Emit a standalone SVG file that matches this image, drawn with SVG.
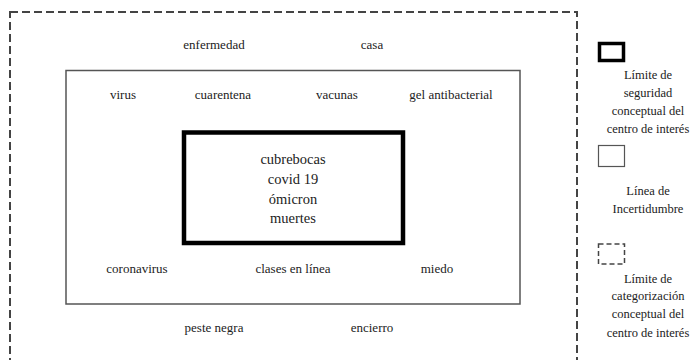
<svg xmlns="http://www.w3.org/2000/svg" width="691" height="360" viewBox="0 0 691 360">
<style>
text{fill:#222;text-anchor:middle}
.t{font-size:13px}
.c{font-size:14.5px}
.l{font-size:12.5px}
.dash{fill:none;stroke:#444;stroke-width:2;stroke-dasharray:8 4}
.thin{fill:none;stroke:#555;stroke-width:1.5}
.thick{fill:none;stroke:#000;stroke-width:4.5}
</style>
<rect width="691" height="360" fill="#fff"/>
<g font-family="'Liberation Serif', 'DejaVu Serif', serif">
<g id="outer-boundary">
<rect class="dash" x="10" y="12" width="567" height="360"/>
<text class="t" x="214" y="49">enfermedad</text>
<text class="t" x="372" y="49">casa</text>
<text class="t" x="214" y="332">peste negra</text>
<text class="t" x="372" y="332">encierro</text>
</g>
<g id="uncertainty-line">
<rect class="thin" x="66" y="70.5" width="454" height="233.5"/>
<text class="t" x="123" y="99">virus</text>
<text class="t" x="223" y="99">cuarentena</text>
<text class="t" x="337" y="99">vacunas</text>
<text class="t" x="451" y="99">gel antibacterial</text>
<text class="t" x="137" y="273">coronavirus</text>
<text class="t" x="293" y="273">clases en línea</text>
<text class="t" x="437" y="273">miedo</text>
</g>
<g id="center">
<rect class="thick" x="184" y="132.5" width="219" height="110.5"/>
<text class="c" x="293" y="164">cubrebocas</text>
<text class="c" x="293" y="184">covid 19</text>
<text class="c" x="293" y="204">ómicron</text>
<text class="c" x="293" y="223">muertes</text>
</g>
<g id="legend-security">
<rect x="599.5" y="43.5" width="24" height="17" fill="none" stroke="#000" stroke-width="3.5"/>
<text class="l" x="648" y="79">Límite de</text>
<text class="l" x="648" y="97">seguridad</text>
<text class="l" x="648" y="115">conceptual del</text>
<text class="l" x="648" y="133">centro de interés</text>
</g>
<g id="legend-uncertainty">
<rect x="598.5" y="145.5" width="26" height="21" fill="none" stroke="#555" stroke-width="1.2"/>
<text class="l" x="648" y="195">Línea de</text>
<text class="l" x="648" y="213">Incertidumbre</text>
</g>
<g id="legend-categorization">
<rect x="598.5" y="244" width="26" height="20" fill="none" stroke="#444" stroke-width="1.5" stroke-dasharray="5 3"/>
<text class="l" x="648" y="283">Límite de</text>
<text class="l" x="648" y="300">categorización</text>
<text class="l" x="648" y="318">conceptual del</text>
<text class="l" x="648" y="337">centro de interés</text>
</g>
</g>
<g id="connectors"></g>
</svg>
